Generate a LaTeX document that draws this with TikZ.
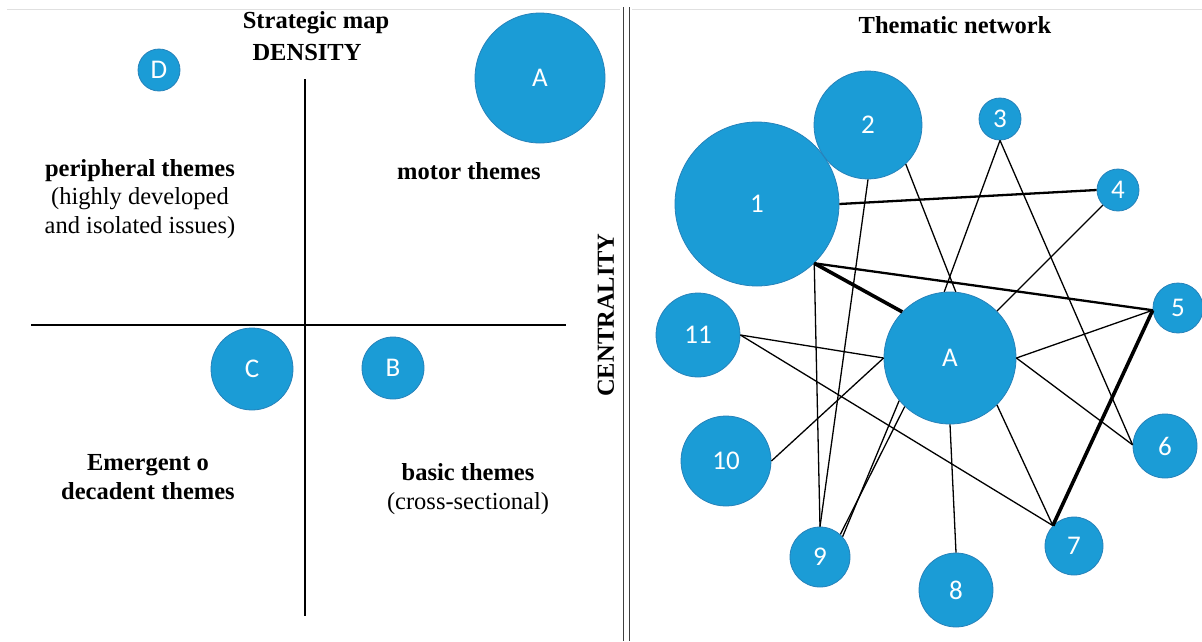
\documentclass[tikz,border=0pt]{standalone}
\usepackage{fontspec}
\setmainfont{Liberation Serif}
\newfontfamily\labelfont{Carlito}
\definecolor{themeblue}{RGB}{27,156,214}
\definecolor{themerim}{RGB}{38,130,186}
\begin{document}
\begin{tikzpicture}[x=1pt,y=-1pt,
  theme/.style={circle, fill=themeblue, draw=themerim, line width=0.8pt,
    inner sep=0pt, minimum size=#1, text=white,
    font=\labelfont\fontsize{27}{27}\selectfont},
  heading/.style={font=\bfseries\fontsize{24.5}{28.5}\selectfont, align=center, inner sep=0pt},
  quadrant/.style={font=\fontsize{24.5}{28.5}\selectfont, align=center, inner sep=0pt},
  link/.style={line width=1.3pt},
  midlink/.style={line width=2.3pt},
  heavylink/.style={line width=3.6pt},
  axis/.style={line width=2pt},
  rule/.style={line width=1.3pt, black!75}]
\useasboundingbox (0,0) rectangle (1202,641);

% faint top rule and double separator
\draw[black!12, line width=0.8pt] (7,9) -- (620,9);
\draw[black!12, line width=0.8pt] (632,9) -- (1202,9);
\draw[rule] (623.5,7) -- (623.5,641);
\draw[rule] (629.5,7) -- (629.5,641);

% ---------------- strategic map ----------------
\node[heading] (maptitle) at (316,23) {Strategic map};
\node[heading] (density) at (307,53) {DENSITY};
\node[heading, rotate=90] (centrality) at (606,315) {CENTRALITY};

\coordinate (vtop) at (305,79);
\coordinate (vbot) at (305,616);
\coordinate (hleft) at (31,325);
\coordinate (hright) at (566,325);
\draw[axis] (vtop) -- (vbot);
\draw[axis] (hleft) -- (hright);

\node[quadrant] (peripheral) at (140,199)
  {{\bfseries peripheral themes}\\(highly developed\\and isolated issues)};
\node[heading] (motor) at (469,171) {motor themes};
\node[heading] (emergent) at (148,477) {Emergent o\\decadent themes};
\node[quadrant] (basic) at (468,489) {{\bfseries basic themes}\\(cross-sectional)};

\node[theme=42pt] (mD) at (159,70) {D};
\node[theme=130pt] (mA) at (540,78) {A};
\node[theme=82pt] (mC) at (252,369) {C};
\node[theme=62pt] (mB) at (393,368) {B};

% ---------------- thematic network ----------------
\node[heading] (nettitle) at (955,25) {Thematic network};

\node[theme=164pt] (n1) at (757,204) {1};
\node[theme=108pt] (n2) at (868,125) {2};
\node[theme=42pt] (n3) at (1000,119) {3};
\node[theme=42pt] (n4) at (1118,190) {4};
\node[theme=50pt] (n5) at (1178,308) {5};
\node[theme=64pt] (n6) at (1165,446) {6};
\node[theme=58pt] (n7) at (1074,546) {7};
\node[theme=74pt] (n8) at (956,590) {8};
\node[theme=60pt] (n9) at (820,557) {9};
\node[theme=90pt] (n10) at (726,461) {10};
\node[theme=84pt] (n11) at (698,335) {11};
\node[theme=132pt] (nA) at (950,358) {A};

\draw[heavylink] (n1.-46) -- (nA.136);
\draw[midlink] (n1.-46) -- (n5.185);
\draw[link] (n1.-46) -- (n9.north);
\draw[midlink] (n1.east) -- (n4.west);
\draw[link] (n2.south) -- (n9.north);
\draw[link] (n2.-46) -- (nA.85);
\draw[link] (n3.south) -- (nA.95);
\draw[link] (n3.south) -- (n6.178);
\draw[link] (n4.-135) -- (nA.45);
\draw[link] (n5.185) -- (nA.east);
\draw[heavylink] (n5.185) -- (n7.136);
\draw[link] (nA.east) -- (n6.178);
\draw[link] (nA.-45) -- (n7.136);
\draw[link] (nA.south) -- (n8.north);
\draw[link] (nA.-140) -- (n9.42);
\draw[link] (nA.-133) -- (n9.48);
\draw[link] (nA.west) -- (n10.east);
\draw[link] (nA.west) -- (n11.east);
\draw[link] (n11.east) -- (n7.136);
\end{tikzpicture}
\end{document}
